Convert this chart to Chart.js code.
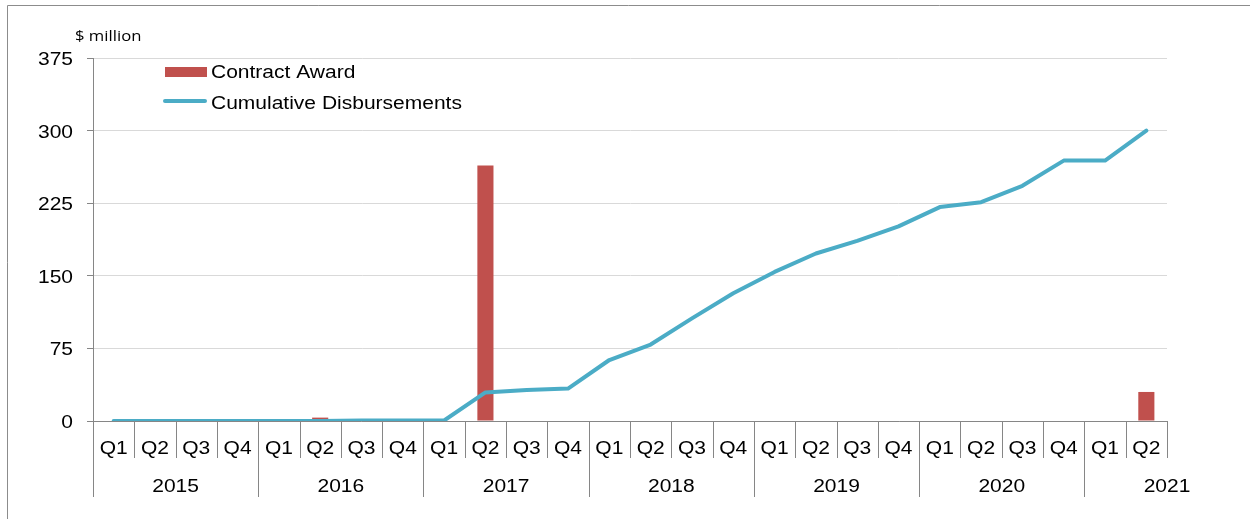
<!DOCTYPE html>
<html><head><meta charset="utf-8">
<script src="https://cdn.jsdelivr.net/npm/chart.js@4/dist/chart.umd.min.js"></script>
<style>html,body{margin:0;padding:0;background:#fff;} #wrap{width:1250px;height:519px;position:relative;}</style>
</head><body><div id="wrap"><canvas id="c" width="1250" height="519"></canvas></div>
<script>
const quarterLabels = ['Q1','Q2','Q3','Q4','Q1','Q2','Q3','Q4','Q1','Q2','Q3','Q4','Q1','Q2','Q3','Q4','Q1','Q2','Q3','Q4','Q1','Q2','Q3','Q4','Q1','Q2'];
const yearLabels = ['2015','2016','2017','2018','2019','2020','2021'];
const yTicks = [0, 75, 150, 225, 300, 375];
const contractAward = [0,0,0,0, 0,3.5,0,0, 0,264,0,0, 0,0,0,0, 0,0,0,0, 0.5,0,0,0, 0,30];
const cumulativeDisbursements = [0,0,0,0, 0,0,0.5,0.5, 0.5,29.5,32,33.5, 63,79,106,132, 154,173,186,201, 221,226,243,269, 269,300];
const unitLabel = '$ million';

const FONT = '"Liberation Sans", Arial, sans-serif';
const SX = 1.2;
const AXIS = '#868686';

function sText(ctx, text, x, y, align, font) {
  ctx.save();
  ctx.font = font; ctx.textBaseline = 'alphabetic'; ctx.textAlign = 'left';
  ctx.fillStyle = '#000';
  const w = ctx.measureText(text).width * SX;
  const left = align === 'center' ? x - w / 2 : align === 'right' ? x - w : x;
  ctx.translate(left, y); ctx.scale(SX, 1); ctx.fillText(text, 0, 0);
  ctx.restore();
}

const decor = {
  id: 'decor',
  afterDraw(chart) {
    const ctx = chart.ctx;
    const xs = chart.scales.x, ys = chart.scales.y;
    const bottom = chart.chartArea.bottom;
    const f17 = '17.5px ' + FONT;
    ctx.save();
    // outer frame
    ctx.strokeStyle = '#8c8c8c'; ctx.lineWidth = 1;
    ctx.beginPath(); ctx.moveTo(7.5, 519); ctx.lineTo(7.5, 5.5); ctx.lineTo(1250, 5.5); ctx.stroke();
    // y tick labels
    yTicks.forEach(v => sText(ctx, String(v), 73, Math.round(ys.getPixelForValue(v)) + 6.5, 'right', f17));
    // unit
    ctx.save(); ctx.font = '14.5px "Open Sans", sans-serif'; ctx.fillStyle = '#000';
    ctx.translate(75, 40.5); ctx.scale(1.15, 1); ctx.fillText(unitLabel, 0, 0); ctx.restore();
    // x category ticks
    ctx.strokeStyle = AXIS; ctx.lineWidth = 1;
    for (let i = 0; i <= quarterLabels.length; i++) {
      const x = Math.round(xs.getPixelForValue(i - 0.5)) + 0.5;
      const isYear = (i % 4 === 0) && i < quarterLabels.length;
      ctx.beginPath(); ctx.moveTo(x, bottom); ctx.lineTo(x, isYear ? 497 : 458); ctx.stroke();
    }
    quarterLabels.forEach((q, i) => sText(ctx, q, xs.getPixelForValue(i), 454, 'center', f17));
    yearLabels.forEach((y, k) => sText(ctx, y, xs.getPixelForValue(k * 4 + 1.5), 492, 'center', f17));
    // legend
    const ds = chart.data.datasets;
    ctx.fillStyle = ds[1].backgroundColor;
    ctx.fillRect(165, 67, 42, 10);
    sText(ctx, ds[1].label, 211, 78, 'left', f17);
    ctx.strokeStyle = ds[0].borderColor; ctx.lineWidth = 4; ctx.lineCap = 'round';
    ctx.beginPath(); ctx.moveTo(165, 101); ctx.lineTo(205, 101); ctx.stroke();
    sText(ctx, ds[0].label, 211, 109, 'left', f17);
    ctx.restore();
  }
};

new Chart(document.getElementById('c'), {
  data: {
    labels: quarterLabels,
    datasets: [
      { type: 'line', label: 'Cumulative Disbursements', data: cumulativeDisbursements,
        borderColor: '#4BACC6', backgroundColor: '#4BACC6', borderWidth: 4, pointRadius: 0,
        tension: 0, borderCapStyle: 'round', borderJoinStyle: 'round', order: 0 },
      { type: 'bar', label: 'Contract Award', data: contractAward,
        backgroundColor: '#C0504D', borderWidth: 0, barPercentage: 0.39, categoryPercentage: 1, order: 1 }
    ]
  },
  options: {
    responsive: false, animation: false, devicePixelRatio: 1,
    layout: { padding: { top: 58, right: 83, left: 0, bottom: 0 } },
    plugins: { legend: { display: false }, tooltip: { enabled: false } },
    scales: {
      x: { offset: true, ticks: { display: false },
        grid: { display: true, drawOnChartArea: false, drawTicks: false },
        border: { display: true, color: AXIS, width: 1 },
        afterFit(s) { s.height = 98; } },
      y: { min: 0, max: 375, ticks: { display: false, stepSize: 75 },
        grid: { color: '#d9d9d9', lineWidth: 1, tickLength: 6, tickColor: AXIS, drawTicks: true },
        border: { display: true, color: AXIS, width: 1 },
        afterFit(s) { s.width = 93; } }
    }
  },
  plugins: [decor]
});
</script></body></html>
